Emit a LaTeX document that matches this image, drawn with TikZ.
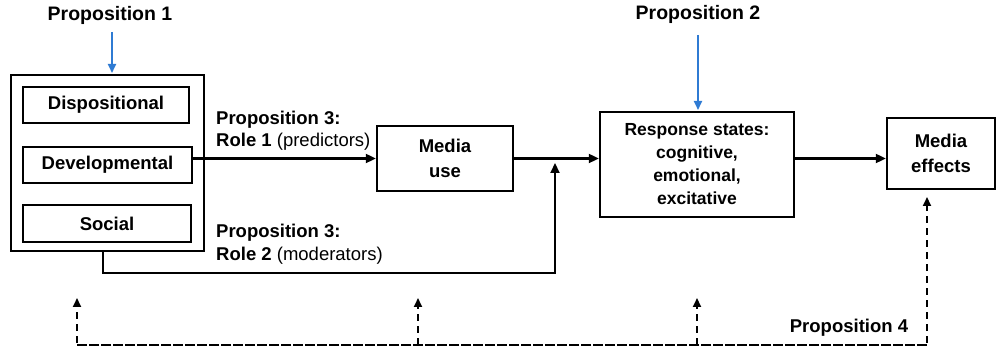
\documentclass[tikz,border=0pt]{standalone}
\usepackage{fontspec}
\setmainfont{Liberation Sans}
\usetikzlibrary{arrows.meta}
\definecolor{propblue}{HTML}{2F7BD3}
\begin{document}
\begin{tikzpicture}[x=1pt,y=-1pt,
  txt/.style={font=\fontsize{18.5}{24}\selectfont\bfseries, inner sep=0pt},
  bx/.style={draw, line width=2.4pt, align=center, inner sep=0pt, font=\fontsize{18.5}{24.5}\selectfont\bfseries},
  conn/.style={line width=2.1pt, -{Triangle[length=10pt,width=9pt]}},
  dconn/.style={line width=2pt, dash pattern=on 7pt off 5pt, -{Triangle[length=9pt,width=8pt]}},
  bconn/.style={line width=1.8pt, draw=propblue, -{Triangle[length=9pt,width=8pt]}}]
\useasboundingbox (0,0) rectangle (997,352);
% boxes
\node[bx, minimum width=193pt, minimum height=176pt] (outer) at (107.5,163) {};
\node[bx, minimum width=166pt, minimum height=36pt] (disp) at (106,105) {Dispositional};
\node[bx, minimum width=169pt, minimum height=36pt] (dev) at (107.5,165) {Developmental};
\node[bx, minimum width=168pt, minimum height=37pt] (soc) at (107,223.5) {Social};
\node[bx, minimum width=136pt, minimum height=65pt] (mu) at (445,158.5) {Media\\use};
\node[bx, minimum width=194pt, minimum height=105pt, font=\fontsize{17.5}{23}\selectfont\bfseries] (rs) at (697,164.5) {Response states:\\cognitive,\\emotional,\\excitative};
\node[bx, minimum width=108pt, minimum height=71pt] (me) at (941,153.5) {Media\\effects};
% labels
\node[txt, font=\fontsize{19.5}{24}\selectfont\bfseries] (p1) at (110,15) {Proposition 1};
\node[txt, font=\fontsize{19.5}{24}\selectfont\bfseries] (p2) at (698,14) {Proposition 2};
\node[txt, anchor=west] (p3a) at (216,120) {Proposition 3:};
\node[txt, anchor=west] (p3b) at (216,142) {Role 1 \mdseries(predictors)};
\node[txt, anchor=west] (p3c) at (216,233) {Proposition 3:};
\node[txt, anchor=west] (p3d) at (216,256) {Role 2 \mdseries(moderators)};
\node[txt] (p4) at (849,328) {Proposition 4};
% coordinates
\coordinate (b1s) at (112,32);
\coordinate (b1e) at (112,73);
\coordinate (b2s) at (698,35);
\coordinate (b2e) at (698,110);
\coordinate (modstart) at (103,251);
\coordinate (modc1) at (103,273);
\coordinate (modc2) at (555,273);
\coordinate (modend) at (555,163);
\coordinate (dl) at (77,298);
\coordinate (dlb) at (77,345);
\coordinate (drb) at (927,345);
\coordinate (dr) at (927,197);
\coordinate (dm1) at (418,298);
\coordinate (dm1b) at (418,345);
\coordinate (dm2) at (697,298);
\coordinate (dm2b) at (697,345);
% blue arrows
\draw[bconn] (b1s) -- (b1e);
\draw[bconn] (b2s) -- (b2e);
% main connectors
\draw[conn] (dev.east |- mu.west) -- (mu.west);
\draw[conn] (mu.east) -- (rs.west |- mu.east);
\draw[conn] (rs.east |- mu.east) -- (me.west |- mu.east);
\draw[conn] (modstart) -- (modc1) -- (modc2) -- (modend);
% dashed
\draw[dconn] (drb) -- (dlb) -- (dl);
\draw[dconn] (dlb) -- (drb) -- (dr);
\draw[dconn] (dm1b) -- (dm1);
\draw[dconn] (dm2b) -- (dm2);
\end{tikzpicture}
\end{document}
